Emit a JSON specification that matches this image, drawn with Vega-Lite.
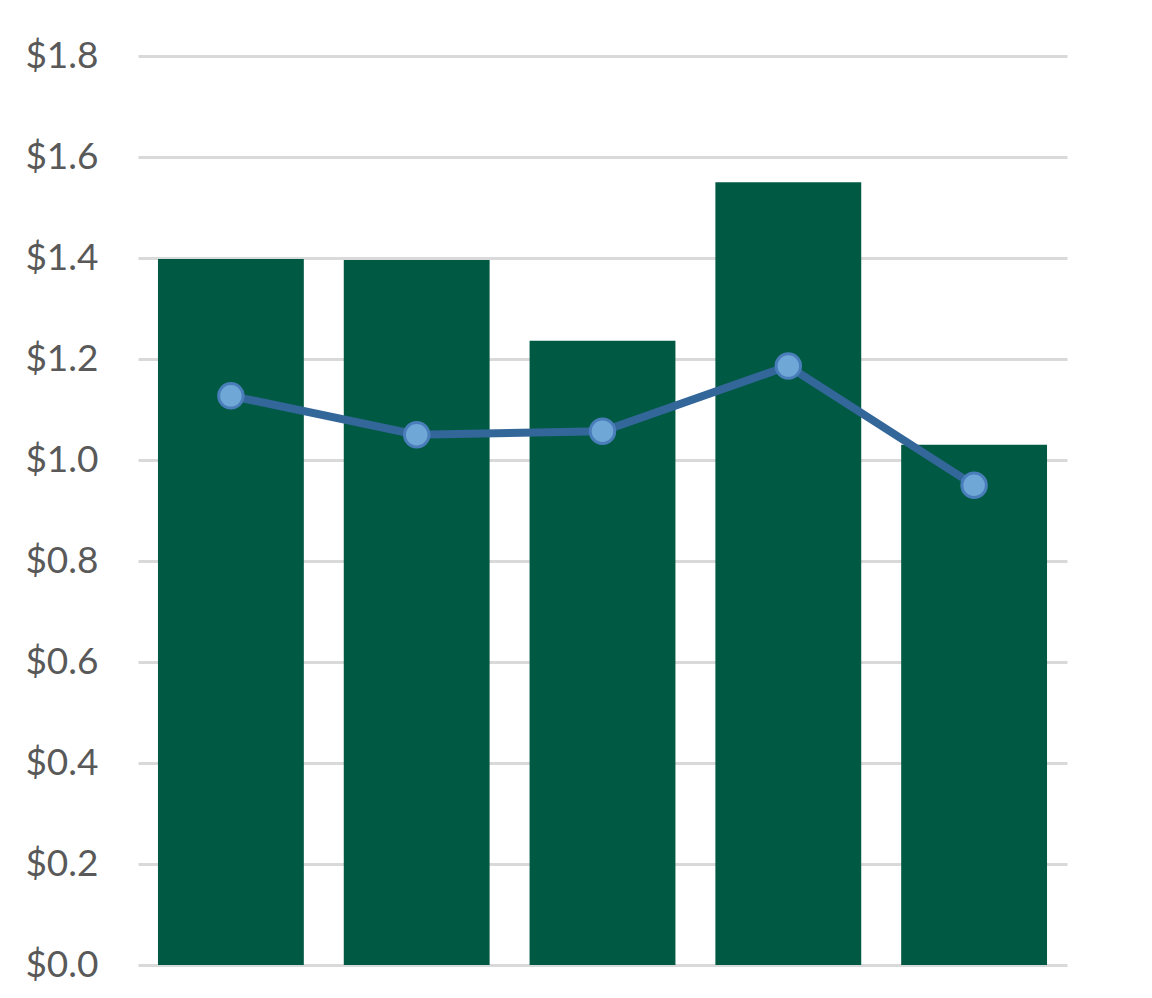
{
  "$schema": "https://vega.github.io/schema/vega-lite/v6.json",
  "autosize": {"type": "none"},
  "padding": {"left": 138, "top": 56, "right": 85, "bottom": 33},
  "width": 929,
  "height": 909,
  "background": "white",
  "config": {"view": {"stroke": null}},
  "data": {
    "values": [
      {"cat": "A", "bar": 1.398, "line": 1.127},
      {"cat": "B", "bar": 1.396, "line": 1.050},
      {"cat": "C", "bar": 1.236, "line": 1.057},
      {"cat": "D", "bar": 1.550, "line": 1.186},
      {"cat": "E", "bar": 1.030, "line": 0.950}
    ]
  },
  "encoding": {
    "x": {
      "field": "cat",
      "type": "nominal",
      "axis": null,
      "scale": {"paddingInner": 0.215, "paddingOuter": 0.1075}
    }
  },
  "layer": [
    {
      "mark": {"type": "bar", "color": "#005a43"},
      "encoding": {
        "y": {
          "field": "bar",
          "type": "quantitative",
          "scale": {"domain": [0, 1.8], "nice": false},
          "axis": {
            "values": [0, 0.2, 0.4, 0.6, 0.8, 1.0, 1.2, 1.4, 1.6, 1.8],
            "format": "$.1f",
            "domain": false,
            "ticks": false,
            "labelPadding": 40,
            "labelFont": "Lato",
            "labelFontSize": 37,
            "labelColor": "#595959",
            "gridColor": "#d9d9d9",
            "gridWidth": 3,
            "title": null
          }
        }
      }
    },
    {
      "mark": {"type": "line", "color": "#336699", "strokeWidth": 8},
      "encoding": {
        "y": {"field": "line", "type": "quantitative"}
      }
    },
    {
      "mark": {"type": "point", "filled": true, "fill": "#6fa8d6", "stroke": "#4a7ebb", "strokeWidth": 3, "size": 600, "opacity": 1},
      "encoding": {
        "y": {"field": "line", "type": "quantitative"}
      }
    }
  ]
}
